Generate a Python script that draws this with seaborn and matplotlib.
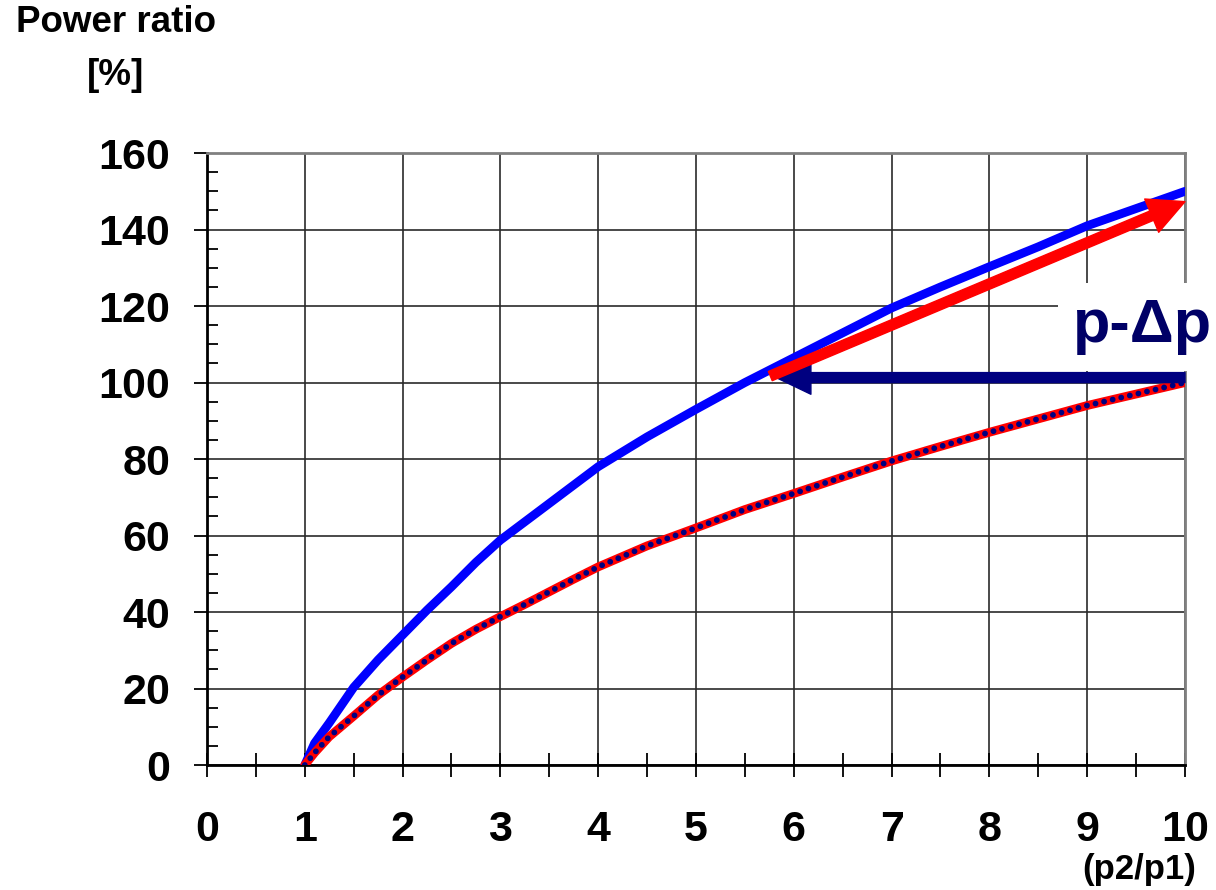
import numpy as np
import pandas as pd
import matplotlib
matplotlib.use('Agg')
import matplotlib.pyplot as plt
from matplotlib.ticker import MultipleLocator
import seaborn as sns

# values
pressure_ratio = [1, 1.1, 1.25, 1.5, 1.75, 2, 2.25, 2.5, 2.75, 3, 3.25, 3.5, 3.75, 4,
                  4.5, 5, 5.5, 6, 6.5, 7, 7.5, 8, 8.5, 9, 9.5, 10]
power_upper = [0, 5.7, 11, 20.3, 27.5, 34, 40.5, 46.6, 53, 58.8, 63.6, 68.4, 73.2, 78,
               85.8, 93, 100, 106.5, 113, 119.5, 125, 130.3, 135.5, 141, 145.5, 150]
power_lower = [0, 3.2, 7.4, 12.8, 18.3, 23, 27.5, 31.8, 35.5, 38.8, 42, 45.3, 48.6, 51.8,
               57.3, 62, 66.8, 71, 75.3, 79.5, 83.3, 87, 90.5, 94, 97, 100]

x_ticks = list(range(0, 11))
y_ticks = list(range(0, 161, 20))

sns.set_style('white')
plt.rcParams['font.family'] = ['Liberation Sans', 'DejaVu Sans']
plt.rcParams['font.weight'] = 'bold'
plt.rcParams['text.color'] = 'black'
plt.rcParams['xtick.color'] = 'black'
plt.rcParams['ytick.color'] = 'black'

df = pd.DataFrame({'ratio': pressure_ratio, 'upper': power_upper, 'lower': power_lower})

fig = plt.figure(figsize=(12.16, 8.9), dpi=100)
ax = fig.add_axes([0.1702, 0.1404, 0.8043, 0.6876])

sns.lineplot(data=df, x='ratio', y='upper', color='#0000ff', ax=ax)
sns.lineplot(data=df, x='ratio', y='lower', color='#ff0000', ax=ax)
sns.lineplot(data=df, x='ratio', y='lower', color='#000080', ax=ax)

blue_line, red_line, dot_line = ax.lines[0], ax.lines[1], ax.lines[2]
for ln in (blue_line, red_line):
    ln.set_linewidth(6.3)
    ln.set_solid_capstyle('round')
    ln.set_solid_joinstyle('round')
    ln.set_zorder(4)
dot_line.set_linewidth(4.2)
dot_line.set_linestyle((0, (0.01, 1.5)))
dot_line.set_dash_capstyle('round')
dot_line.set_zorder(5)

ax.set_xlim(0, 10)
ax.set_ylim(0, 160)
ax.set_xticks(x_ticks)
ax.set_yticks(y_ticks)
ax.xaxis.set_minor_locator(MultipleLocator(0.5))
ax.yaxis.set_minor_locator(MultipleLocator(5))
ax.grid(True, which='major', color='#2a2a2a', lw=1.2, zorder=1)
ax.set_axisbelow(True)

ax.tick_params(axis='x', which='both', bottom=True, direction='inout', length=17, width=1.3,
               color='black', pad=24, labelsize=31)
ax.tick_params(axis='y', which='major', left=True, direction='out', length=9.5, width=1.3,
               color='black', pad=17, labelsize=31)
ax.tick_params(axis='y', which='minor', left=True, direction='in', length=8, width=1.3,
               color='black')
for lab in ax.get_xticklabels() + ax.get_yticklabels():
    lab.set_fontweight('bold')
    lab.set_color('black')

ax.set_xlabel('')
ax.set_ylabel('')
for s in ['left', 'bottom']:
    ax.spines[s].set_color('black')
    ax.spines[s].set_linewidth(2)
for s in ['top', 'right']:
    ax.spines[s].set_color('#808080')
    ax.spines[s].set_linewidth(2)

# arrows
ax.annotate('', xy=(10, 147.3), xytext=(5.76, 101.7),
            arrowprops=dict(color='#ff0000', width=7.2, headwidth=26, headlength=26, shrink=0),
            zorder=7)
ax.annotate('', xy=(5.82, 101.3), xytext=(10, 101.3),
            arrowprops=dict(color='#000080', width=7.2, headwidth=24, headlength=25, shrink=0),
            zorder=6)

ax.text(9.57, 110.5, 'p-Δp', fontsize=44, fontweight='bold', color='#000066',
        ha='center', va='baseline', zorder=8,
        bbox=dict(boxstyle='square,pad=0.25', fc='white', ec='none'))

fig.text(0.0954, 0.975, 'Power ratio', fontsize=26.5, fontweight='bold', ha='center', va='center')
fig.text(0.0954, 0.915, '[%]', fontsize=26.5, fontweight='bold', ha='center', va='center')
fig.text(0.937, 0.0225, '(p2/p1)', fontsize=25, fontweight='bold', ha='center', va='center')

fig.savefig('out.png', dpi=100)
